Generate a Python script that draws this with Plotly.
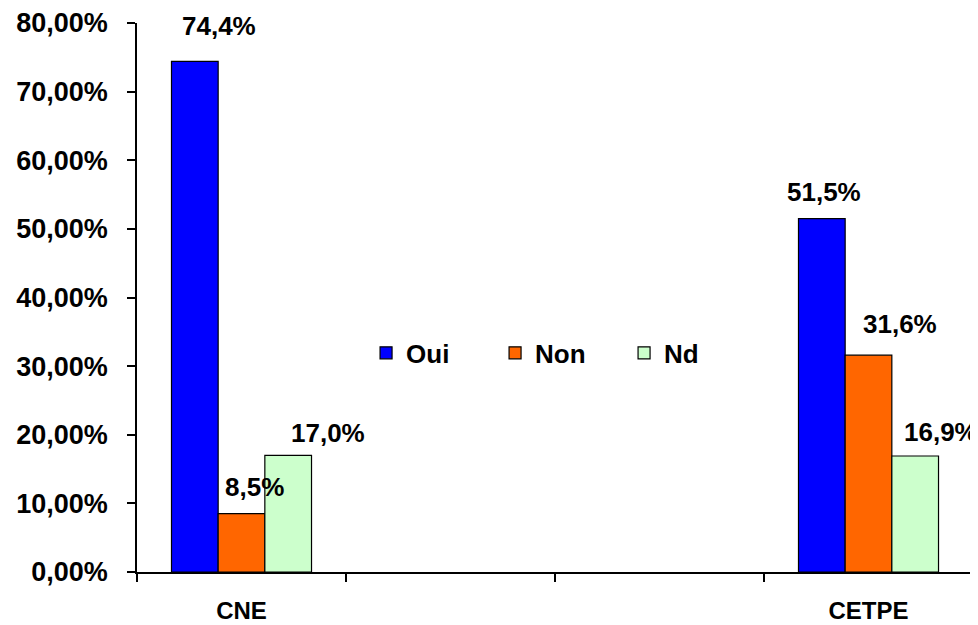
import plotly.graph_objects as go

categories = ["CNE", " ", "  ", "CETPE"]
groups = ["CNE", "CETPE"]
oui = [0.744, 0.515]
non = [0.085, 0.316]
nd = [0.170, 0.169]
series_names = ["Oui", "Non", "Nd"]
colors = ["#0000FF", "#FF6600", "#CCFFCC"]

FONT = "Liberation Sans, Arial, sans-serif"
bargap = 0.33
barw = (1 - bargap) / 3

fig = go.Figure()
for name, vals, col in zip(series_names, [oui, non, nd], colors):
    fig.add_trace(go.Bar(
        x=groups, y=vals, name=name,
        marker=dict(color=col, line=dict(color="black", width=1.2)),
    ))

# label offsets (px) per series per group: (xshift, yshift)
shifts = {
    0: [(24, 35), (2, 27)],
    1: [(13, 27), (31, 31)],
    2: [(40, 22), (26, 24)],
}
for k, vals in enumerate([oui, non, nd]):
    for gi, (g, v) in enumerate(zip(groups, vals)):
        cx = categories.index(g) + (k - 1) * barw
        xs, ys = shifts[k][gi]
        txt = f"{v*100:.1f}".replace(".", ",") + "%"
        fig.add_annotation(
            x=cx, y=v, xref="x", yref="y", text=txt, showarrow=False,
            xanchor="center", yanchor="middle", xshift=xs, yshift=ys,
            font=dict(family=FONT, size=26, color="black", weight="bold"),
        )

fig.update_layout(
    width=970, height=617,
    margin=dict(l=129, r=5, t=15, b=53, autoexpand=False),
    plot_bgcolor="white", paper_bgcolor="white",
    barmode="group", bargap=bargap, bargroupgap=0,
    separators=", ",
    showlegend=True,
    legend=dict(
        orientation="h", x=0.274, xanchor="left", y=0.399, yanchor="middle",
        font=dict(family=FONT, size=26, color="black", weight="bold"),
        bgcolor="rgba(0,0,0,0)", entrywidth=84, entrywidthmode="pixels",
    ),
    font=dict(family=FONT, color="black"),
)
fig.update_xaxes(
    type="category", categoryorder="array", categoryarray=categories,
    range=[-0.5, 3.5], tickson="boundaries", automargin=False,
    showline=True, linecolor="black", linewidth=1.5,
    ticks="outside", ticklen=8, tickwidth=1.5, tickcolor="black",
    tickfont=dict(family=FONT, size=24, color="black", weight="bold"),
    ticklabelstandoff=16, showgrid=False, zeroline=False,
)
fig.update_yaxes(
    range=[0, 0.8], dtick=0.1, tick0=0, tickformat=".2%", automargin=False,
    showline=True, linecolor="black", linewidth=1.5,
    ticks="outside", ticklen=8, tickwidth=1.5, tickcolor="black",
    tickfont=dict(family=FONT, size=27, color="black", weight="bold"),
    ticklabelstandoff=14, showgrid=False, zeroline=False,
)

fig.write_html("out.html")
